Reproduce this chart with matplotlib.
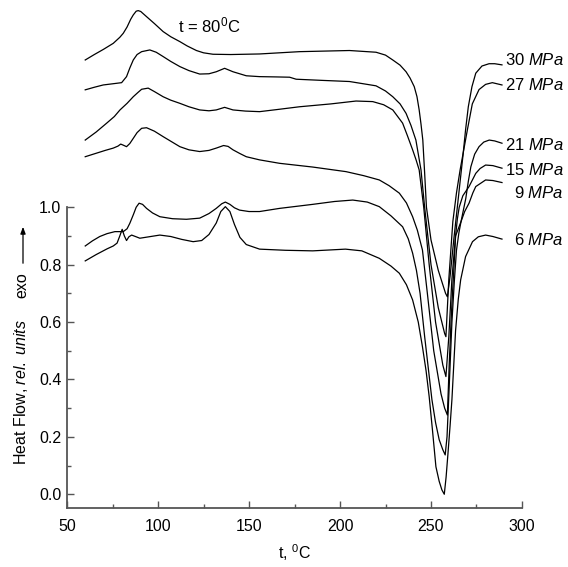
import matplotlib
matplotlib.use("Agg")
import matplotlib.pyplot as plt
from matplotlib.ticker import FixedLocator, MultipleLocator

plt.rcParams["font.family"] = ["Liberation Sans", "DejaVu Sans"]
plt.rcParams["mathtext.fontset"] = "custom"
plt.rcParams["mathtext.rm"] = "Liberation Sans"
plt.rcParams["mathtext.it"] = "Liberation Sans:italic"

# DSC heating curves, one per pressure (heat flow, rel. units vs t, degC)
pressures = ["30", "27", "21", "15", "9", "6"]

t_30 = [60, 65, 70, 75.4, 79, 80.9, 83, 85, 86.4, 88, 89.1, 90.5, 93.7, 98, 102.8,
        107, 112, 116, 121.1, 125, 130.2, 140, 155.8, 177.7, 205.2, 219.8, 225, 229,
        233, 236.3, 238.5, 240.8, 242.3, 243.5, 244.5, 245.5, 246.5, 247.5, 250, 254,
        258, 259, 260.5, 262.5, 264.5, 266, 267.5, 269, 270.5, 272.5, 274.6, 278,
        281.9, 285, 289]
hf_30 = [1.513, 1.532, 1.55, 1.571, 1.592, 1.606, 1.628, 1.655, 1.67, 1.683, 1.685,
         1.682, 1.664, 1.64, 1.612, 1.594, 1.577, 1.562, 1.546, 1.538, 1.533, 1.532,
         1.534, 1.542, 1.546, 1.54, 1.53, 1.513, 1.495, 1.472, 1.45, 1.42, 1.385,
         1.339, 1.29, 1.234, 1.12, 1.0, 0.886, 0.78, 0.70, 0.688, 0.76, 0.886, 1.002,
         1.09, 1.176, 1.27, 1.35, 1.42, 1.467, 1.492, 1.50, 1.5, 1.496]

t_27 = [60, 65, 69.9, 75, 80, 82.7, 84.5, 86.4, 88.5, 91, 95.5, 99, 102.8, 107, 112,
        117, 122.9, 128, 132, 136.6, 141.2, 148.5, 155.8, 165, 172.3, 175.9, 190,
        205.2, 219.8, 225, 229, 233, 236.3, 239, 241.7, 244.5, 246.5, 250, 254, 257.5,
        258.2, 259.8, 262, 264, 266, 268, 270, 272.7, 276.4, 280, 283.7, 289]
hf_27 = [1.409, 1.418, 1.426, 1.43, 1.434, 1.455, 1.485, 1.513, 1.532, 1.542, 1.548,
         1.54, 1.525, 1.508, 1.49, 1.476, 1.464, 1.465, 1.472, 1.484, 1.472, 1.458,
         1.455, 1.454, 1.453, 1.446, 1.442, 1.438, 1.423, 1.405, 1.385, 1.36, 1.327,
         1.285, 1.234, 1.13, 1.0, 0.8, 0.65, 0.56, 0.549, 0.75, 0.95, 1.05, 1.13, 1.2,
         1.27, 1.36, 1.41, 1.428, 1.434, 1.426]

t_21 = [60, 66, 71.8, 76, 79.1, 83, 86.4, 89, 91, 94.6, 98, 102.8, 107, 112, 117,
        122.9, 128, 132, 136.6, 141.2, 148, 155.8, 165, 177.7, 195, 208.8, 218, 224,
        229, 234.4, 237, 239.9, 241.8, 243.5, 246, 249, 252.5, 256.5, 258.2, 259.8,
        261.5, 263.5, 266.5, 269.1, 270.5, 271.9, 274, 276.4, 279, 282, 285, 289]
hf_21 = [1.234, 1.262, 1.293, 1.316, 1.339, 1.362, 1.385, 1.4, 1.411, 1.415, 1.403,
         1.385, 1.373, 1.362, 1.35, 1.339, 1.336, 1.339, 1.348, 1.339, 1.335, 1.333,
         1.34, 1.35, 1.36, 1.37, 1.368, 1.357, 1.339, 1.293, 1.25, 1.2, 1.165, 1.13,
         1.0, 0.8, 0.6, 0.45, 0.41, 0.55, 0.75, 0.9, 0.95, 1.03, 1.09, 1.141, 1.185,
         1.211, 1.227, 1.234, 1.231, 1.223]

t_15 = [60, 66, 71, 75.4, 78, 79.5, 81, 82.7, 84.5, 86.4, 88.5, 91, 93.7, 98, 102.8,
        107, 112, 117, 122.9, 128, 132, 136, 138.5, 141.2, 145, 148.5, 155.8, 166.8,
        185, 203.3, 213, 221.6, 227, 232.6, 236.5, 239.9, 242.5, 245.3, 248, 251.5,
        255.5, 257.5, 259, 260, 261, 261.8, 262.7, 263.5, 264.5, 265.5, 267.5, 270.9,
        274.6, 277, 280, 284, 289]
hf_15 = [1.176, 1.188, 1.198, 1.206, 1.213, 1.22, 1.216, 1.211, 1.222, 1.24, 1.26,
         1.275, 1.277, 1.265, 1.246, 1.23, 1.211, 1.2, 1.194, 1.198, 1.206, 1.215,
         1.212, 1.2, 1.187, 1.176, 1.165, 1.153, 1.14, 1.124, 1.11, 1.095, 1.075,
         1.049, 1.015, 0.967, 0.92, 0.851, 0.7, 0.5, 0.35, 0.3, 0.276, 0.45, 0.6, 0.7,
         0.8, 0.9, 0.96, 1.0, 1.04, 1.072, 1.118, 1.135, 1.147, 1.145, 1.136]

t_9 = [60, 64, 68, 72, 76.3, 80.9, 83, 84.5, 86.5, 88, 89.6, 91.5, 93.7, 97, 101,
       108, 115.6, 122.9, 128, 132, 135, 137, 139.5, 142, 144.8, 150, 155.8, 166.8,
       185, 197, 207, 215, 221.6, 228, 234.4, 237.5, 239.9, 242, 244, 246.5, 248.5,
       250.5, 252.5, 254.5, 256.5, 257.8, 258.8, 259.5, 260.5, 261.5, 262.8, 264,
       265.3, 266.5, 268.5, 270.9, 273, 274.6, 280, 284, 289]
hf_9 = [0.865, 0.883, 0.898, 0.908, 0.915, 0.915, 0.925, 0.944, 0.975, 1.0, 1.014,
        1.01, 0.996, 0.98, 0.967, 0.96, 0.958, 0.962, 0.978, 0.996, 1.012, 1.018,
        1.01, 0.998, 0.99, 0.985, 0.985, 0.996, 1.01, 1.02, 1.025, 1.018, 1.002, 0.97,
        0.932, 0.89, 0.84, 0.78, 0.7, 0.55, 0.44, 0.33, 0.25, 0.19, 0.155, 0.137, 0.2,
        0.3, 0.45, 0.6, 0.74, 0.85, 0.91, 0.95, 0.985, 1.014, 1.05, 1.072, 1.095,
        1.093, 1.086]

t_6 = [60, 66, 72, 75.4, 77.5, 79, 80.3, 81.5, 82.7, 84, 85.5, 88, 90, 95, 101, 107,
       113, 119.3, 124, 128, 132, 134.5, 137, 139.5, 142, 145, 148.5, 155.8, 170, 185,
       203, 212, 221.6, 228, 232.6, 236.5, 239.9, 243, 245.3, 247.3, 249, 250.8,
       252.7, 254.5, 256, 257.3, 258.3, 259.3, 260.5, 261.5, 262.5, 263.5, 265,
       266.3, 269, 272.8, 276, 280, 284, 289]
hf_6 = [0.813, 0.835, 0.855, 0.865, 0.875, 0.9, 0.923, 0.9, 0.884, 0.897, 0.903,
        0.897, 0.892, 0.897, 0.903, 0.898, 0.888, 0.88, 0.884, 0.905, 0.945, 0.985,
        1.002, 0.985, 0.94, 0.895, 0.87, 0.854, 0.85, 0.848, 0.854, 0.848, 0.822,
        0.795, 0.77, 0.73, 0.677, 0.6, 0.514, 0.43, 0.34, 0.224, 0.096, 0.045, 0.015,
        0.0, 0.06, 0.14, 0.24, 0.33, 0.45, 0.57, 0.68, 0.747, 0.828, 0.88, 0.897,
        0.903, 0.898, 0.889]

curves = [(t_30, hf_30), (t_27, hf_27), (t_21, hf_21),
          (t_15, hf_15), (t_9, hf_9), (t_6, hf_6)]
# height of each pressure label next to the curve ends
label_y = [1.513, 1.426, 1.217, 1.13, 1.05, 0.886]

fig = plt.figure(figsize=(5.68, 5.67), dpi=100)
ax = fig.add_axes([0.118, 0.104, 0.801, 0.896])

for (t, hf), p, ly in zip(curves, pressures, label_y):
    ax.plot(t, hf, color="black", lw=0.9)
    ax.text(323, ly, p + r" $\mathit{MPa}$", ha="right", va="center",
            fontsize=12, clip_on=False)

ax.set_xlim(50, 300)
ax.set_ylim(-0.048, 1.722)

axis_col = "#555555"
for side in ("top", "right"):
    ax.spines[side].set_visible(False)
for side in ("left", "bottom"):
    ax.spines[side].set_color(axis_col)
    ax.spines[side].set_linewidth(1.3)
ax.spines["left"].set_bounds(-0.048, 1.0)

ax.xaxis.set_major_locator(MultipleLocator(50))
ax.xaxis.set_minor_locator(MultipleLocator(25))
ax.yaxis.set_major_locator(FixedLocator([0.0, 0.2, 0.4, 0.6, 0.8, 1.0]))
ax.yaxis.set_minor_locator(FixedLocator([0.1, 0.3, 0.5, 0.7, 0.9]))
ax.tick_params(which="both", direction="in", color=axis_col, width=1.0,
               labelsize=11.5)
ax.tick_params(which="major", length=5)
ax.tick_params(which="minor", length=3)
ax.set_xticks([50, 100, 150, 200, 250, 300])
ax.set_xticklabels(["50", "100", "150", "200", "250", "300"])
ax.set_yticklabels(["0.0", "0.2", "0.4", "0.6", "0.8", "1.0"])
ax.tick_params(axis="x", pad=8)
ax.tick_params(axis="y", pad=4)

ax.set_xlabel(r"t, $^\mathrm{0}$C", fontsize=11.5, labelpad=6)
ax.text(128, 1.632, r"t = 80$^\mathrm{0}$C", ha="center", va="center",
        fontsize=12)

fig.text(21 / 568, 1 - 392 / 567, r"Heat Flow, $\mathit{rel.\ units}$",
         rotation=90, ha="center", va="center", fontsize=11.5)
fig.text(22 / 568, 1 - 285 / 567, "exo", rotation=90, ha="center",
         va="center", fontsize=11.5)
fig.add_artist(matplotlib.patches.FancyArrowPatch(
    (23 / 568, 1 - 266 / 567), (23 / 568, 1 - 224 / 567),
    transform=fig.transFigure, arrowstyle="-|>,head_length=4,head_width=1.5",
    color="black", lw=0.9, mutation_scale=1))

fig.savefig("out.png", dpi=100)
